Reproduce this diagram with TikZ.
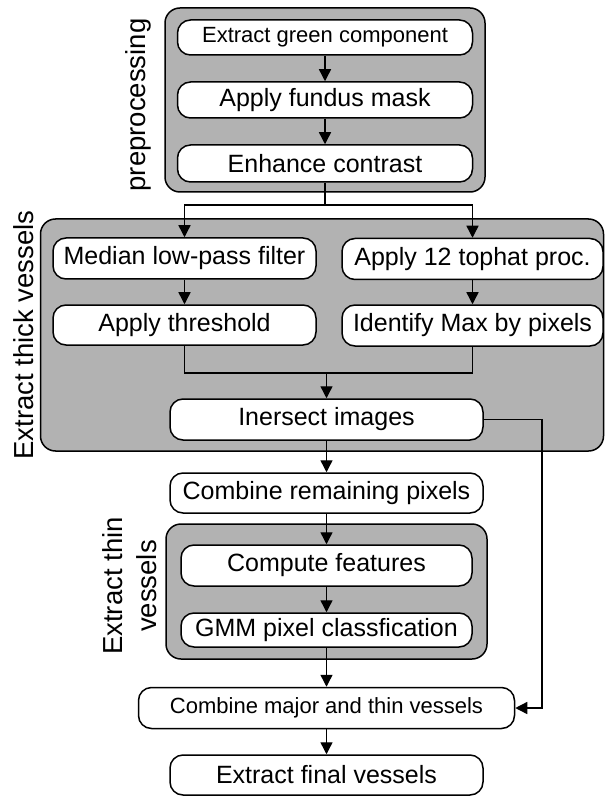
\documentclass[tikz,border=0pt]{standalone}
\usepackage{fontspec}
\setmainfont{Liberation Sans}
\usetikzlibrary{arrows.meta}
\definecolor{grp}{RGB}{178,178,178}
\begin{document}
\begin{tikzpicture}
[x=.5pt,y=-.5pt, b/.style={draw,fill=white,rounded corners=6.5pt,line width=.75pt,inner sep=0pt,font=\fontsize{12.5}{14}\selectfont},
g/.style={draw,fill=grp,rounded corners=7.5pt,line width=.75pt,inner sep=0pt},
l/.style={rotate=90,inner sep=0pt,align=center,font=\fontsize{13.75}{17}\selectfont},
a/.style={line width=.7pt,-{Triangle[length=6pt,width=6pt]}}]
\useasboundingbox (0,0) rectangle (605,796);
\node(pre) at (325,100)[g,minimum width=160pt,minimum height=92pt]{};
\node(thk) at (322,335)[g,minimum width=281.5pt,minimum height=116pt]{};
\node(thn) at (326.5,591.5)[g,minimum width=160.5pt,minimum height=67.5pt]{};
\node(lpre) at (138,105)[l]{preprocessing};
\node(lthk) at (24,335)[l]{Extract thick vessels};
\node(lthn) at (130,586)[l]{Extract thin\\vessels};
\node(egc) at (325,37.5)[b,minimum width=147.5pt,minimum height=17.5pt,font=\fontsize{11}{13}\selectfont]{Extract green component};
\node(afm) at (325,100)[b,minimum width=147.5pt,minimum height=18pt]{Apply fundus mask};
\node(enc) at (325,163.5)[b,minimum width=147.5pt,minimum height=18.5pt]{Enhance contrast};
\node(mlp) at (184.5,258.5)[b,minimum width=131.5pt,minimum height=20.5pt]{Median low-pass filter};
\node(atp) at (472.5,259)[b,minimum width=130.5pt,minimum height=20.5pt]{Apply 12 tophat proc.};
\node(thr) at (184.5,325)[b,minimum width=131.5pt,minimum height=20pt]{Apply threshold};
\node(imx) at (472.5,325.5)[b,minimum width=130.5pt,minimum height=20.5pt]{Identify Max by pixels};
\node(ins) at (326.5,419.5)[b,minimum width=156.5pt,minimum height=20.5pt]{Inersect images};
\node(crp) at (326.5,493)[b,minimum width=156.5pt,minimum height=20pt]{Combine remaining pixels};
\node(cft) at (326.5,565.5)[b,minimum width=145.5pt,minimum height=20.5pt]{Compute features};
\node(gmm) at (326.5,630)[b,minimum width=145.5pt,minimum height=17pt]{GMM pixel classfication};
\node(cmt) at (326.5,708)[b,minimum width=188pt,minimum height=20.5pt,font=\fontsize{11}{13}\selectfont]{Combine major and thin vessels};
\node(efv) at (326.5,775)[b,minimum width=156.5pt,minimum height=20pt]{Extract final vessels};
\coordinate(spl) at (325,205);\coordinate(mrg) at (326.5,373);\coordinate(rgt) at (542,0);
\draw[a](egc)--(afm);\draw[a](afm)--(enc);
\draw[line width=.7pt](enc)--(spl);\draw[a](spl)-|(mlp);\draw[a](spl)-|(atp);
\draw[a](mlp)--(thr);\draw[a](atp)--(imx);
\draw[line width=.7pt](thr)|-(mrg)-|(imx);\draw[a](mrg)--(ins);
\draw[a](ins)--(crp);\draw[a](crp)--(cft);\draw[a](cft)--(gmm);\draw[a](gmm)--(cmt);\draw[a](cmt)--(efv);
\draw[a](ins.east)-|(rgt|-cmt.east)--(cmt.east);
\end{tikzpicture}
\end{document}
